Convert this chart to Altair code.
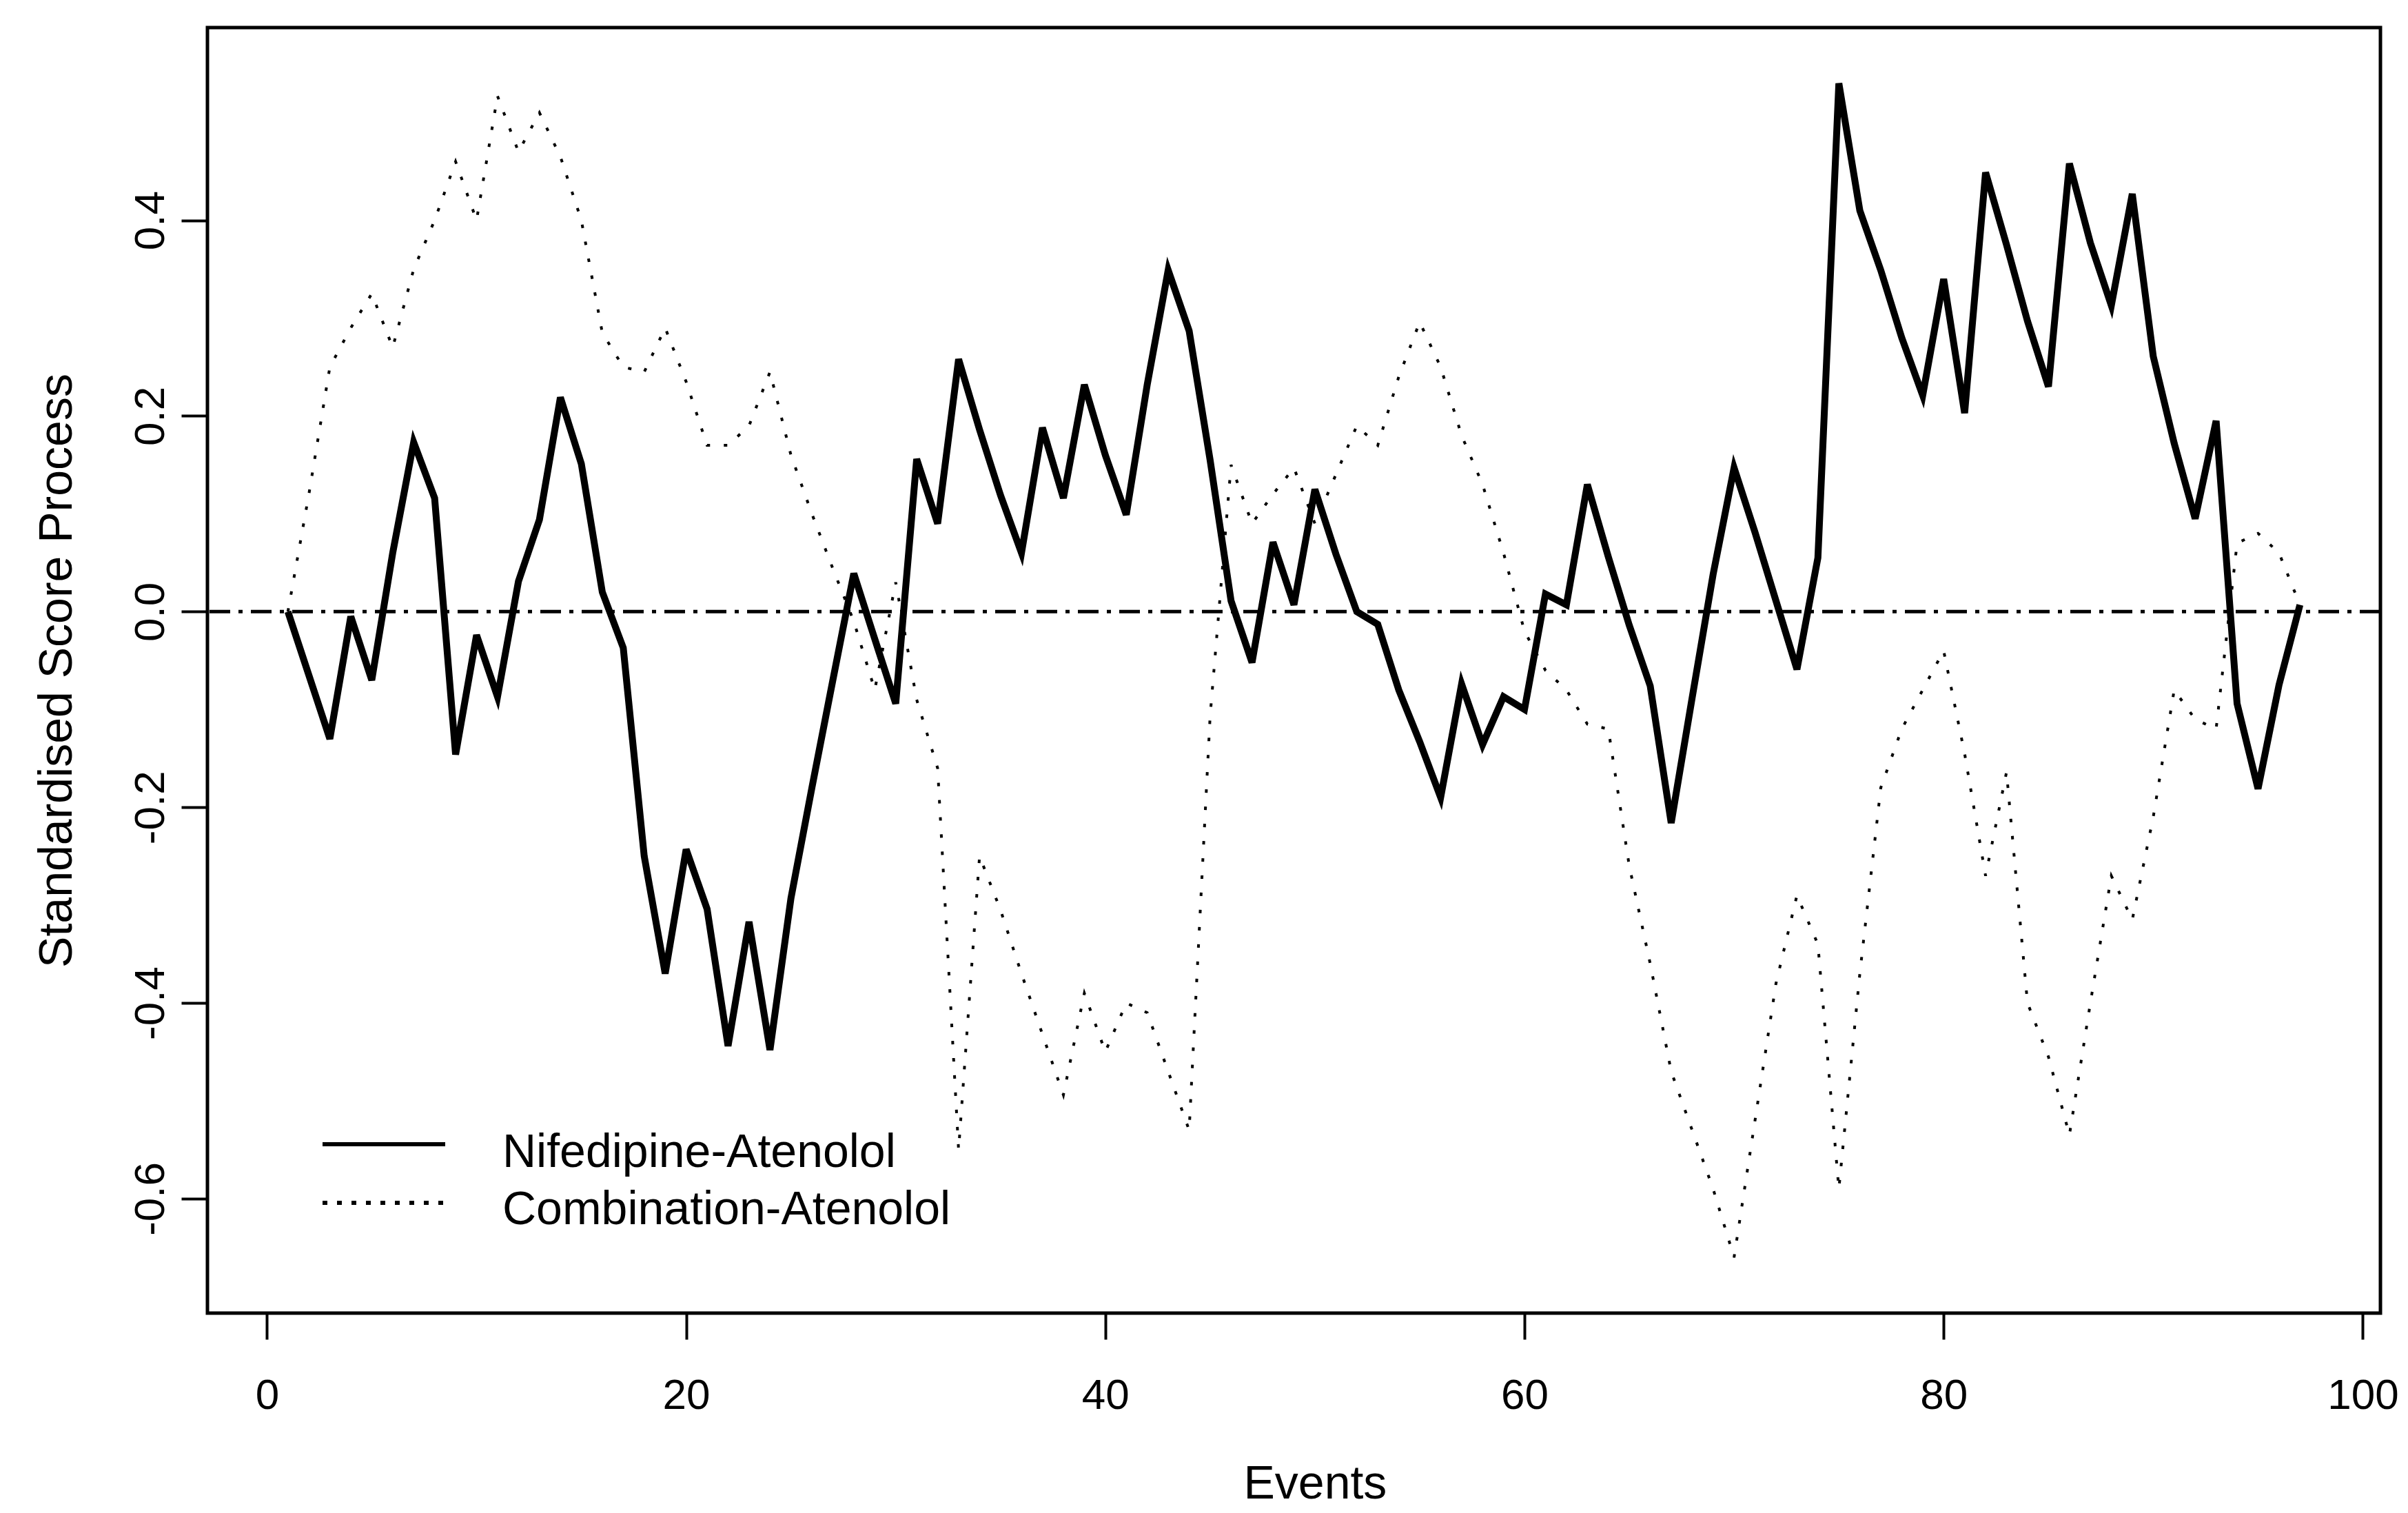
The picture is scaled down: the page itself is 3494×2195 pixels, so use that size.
import altair as alt
import pandas as pd

# ---- data ----
events = list(range(1, 98))

nifedipine_atenolol = [
    0.0, -0.065, -0.13, -0.005, -0.07, 0.06, 0.173, 0.116, -0.146, -0.024,
    -0.087, 0.031, 0.094, 0.219, 0.151, 0.02, -0.037, -0.25, -0.37, -0.243,
    -0.304, -0.444, -0.317, -0.448, -0.293, -0.18, -0.07, 0.039, -0.028, -0.094,
    0.156, 0.09, 0.258, 0.186, 0.119, 0.06, 0.188, 0.116, 0.232, 0.16,
    0.099, 0.232, 0.349, 0.287, 0.155, 0.011, -0.052, 0.071, 0.007, 0.125,
    0.059, 0.0, -0.013, -0.08, -0.133, -0.19, -0.074, -0.136, -0.087, -0.1,
    0.018, 0.007, 0.13, 0.056, -0.014, -0.076, -0.216, -0.088, 0.038, 0.147,
    0.081, 0.011, -0.059, 0.055, 0.54, 0.41, 0.349, 0.28, 0.221, 0.34,
    0.203, 0.449, 0.375, 0.297, 0.23, 0.458, 0.377, 0.313, 0.427, 0.261,
    0.172, 0.095, 0.195, -0.094, -0.181, -0.075, 0.007,
]

combination_atenolol = [
    0.0, 0.12, 0.25, 0.29, 0.325, 0.27, 0.35, 0.40, 0.46, 0.40,
    0.527, 0.47, 0.51, 0.465, 0.40, 0.285, 0.25, 0.245, 0.29, 0.235,
    0.17, 0.17, 0.19, 0.245, 0.16, 0.10, 0.044, -0.01, -0.08, 0.03,
    -0.09, -0.16, -0.55, -0.25, -0.305, -0.37, -0.432, -0.494, -0.39, -0.45,
    -0.40, -0.41, -0.47, -0.53, -0.107, 0.15, 0.09, 0.12, 0.147, 0.09,
    0.14, 0.19, 0.17, 0.24, 0.296, 0.25, 0.18, 0.13, 0.06, -0.02,
    -0.06, -0.08, -0.115, -0.12, -0.26, -0.36, -0.47, -0.53, -0.59, -0.66,
    -0.52, -0.38, -0.29, -0.34, -0.59, -0.37, -0.18, -0.12, -0.08, -0.04,
    -0.145, -0.27, -0.164, -0.40, -0.455, -0.535, -0.40, -0.27, -0.315, -0.21,
    -0.08, -0.11, -0.12, 0.07, 0.08, 0.06, 0.007,
]

series_names = ["Nifedipine-Atenolol", "Combination-Atenolol"]
x_ticks = [0, 20, 40, 60, 80, 100]
y_ticks = [-0.6, -0.4, -0.2, 0.0, 0.2, 0.4]
x_domain = [-2.84, 100.84]
y_domain = [-0.717, 0.597]
reference_level = [0.0]

FONT = "Liberation Sans"
W, H = 3153, 1865

df_nif = pd.DataFrame({"Events": events, "value": nifedipine_atenolol})
df_com = pd.DataFrame({"Events": events, "value": combination_atenolol})
df_ref = pd.DataFrame({"level": reference_level})

x_scale = alt.Scale(domain=x_domain, nice=False, zero=False)
y_scale = alt.Scale(domain=y_domain, nice=False, zero=False)

x_axis = alt.Axis(
    values=x_ticks, title="Events", grid=False, domain=False,
    tickSize=38, tickWidth=4, tickColor="black",
    labelFont=FONT, labelFontSize=62, labelColor="black",
    labelBaseline="alphabetic", labelPadding=100, labelFlush=False,
    titleFont=FONT, titleFontSize=68, titleFontWeight="normal", titleColor="black",
    titleBaseline="alphabetic", titleY=268, titleX=W * (50 - x_domain[0]) / (x_domain[1] - x_domain[0]),
)
y_axis = alt.Axis(
    values=y_ticks, format=".1f", title="Standardised Score Process", grid=False, domain=False,
    tickSize=38, tickWidth=4, tickColor="black",
    labelFont=FONT, labelFontSize=62, labelColor="black",
    labelAngle=270, labelAlign="center", labelBaseline="alphabetic", labelPadding=26,
    labelExpr="replace(datum.label, '\u2212', '-')",
    titleFont=FONT, titleFontSize=68, titleFontWeight="normal", titleColor="black",
    titleAngle=270, titleAlign="center", titleBaseline="alphabetic", titleX=-198, titleY=H / 2,
)

solid = alt.Chart(df_nif).mark_line(color="black", strokeWidth=10, strokeJoin="miter", clip=True).encode(
    x=alt.X("Events:Q", scale=x_scale, axis=x_axis),
    y=alt.Y("value:Q", scale=y_scale, axis=y_axis),
)
dotted = alt.Chart(df_com).mark_line(color="black", strokeWidth=4, strokeDash=[5, 20], clip=True).encode(
    x=alt.X("Events:Q", scale=x_scale),
    y=alt.Y("value:Q", scale=y_scale),
)
zero_line = alt.Chart(df_ref).mark_rule(color="black", strokeWidth=5, strokeDash=[30, 12, 6, 12]).encode(
    y=alt.Y("level:Q", scale=y_scale),
)

# legend (drawn manually, no frame, as in the reference)
leg_df = pd.DataFrame({"name": [series_names[0]]})
leg_solid = alt.Chart(leg_df).mark_rule(color="black", strokeWidth=6).encode(
    x=alt.value(167), x2=alt.value(345), y=alt.value(1620)
)
leg_dot = alt.Chart(leg_df).mark_rule(color="black", strokeWidth=6, strokeDash=[7, 14]).encode(
    x=alt.value(167), x2=alt.value(345), y=alt.value(1705)
)
leg_t1 = alt.Chart(leg_df).mark_text(
    font=FONT, fontSize=68, align="left", baseline="alphabetic", color="black", text=series_names[0]
).encode(x=alt.value(428), y=alt.value(1653))
leg_t2 = alt.Chart(leg_df).mark_text(
    font=FONT, fontSize=68, align="left", baseline="alphabetic", color="black", text=series_names[1]
).encode(x=alt.value(428), y=alt.value(1736))

chart = alt.layer(
    zero_line, dotted, solid, leg_solid, leg_dot, leg_t1, leg_t2
).properties(
    width=W, height=H,
    autosize=alt.AutoSizeParams(type="none"),
    padding={"left": 301, "top": 40, "right": 40, "bottom": 290},
    background="white",
).configure_view(stroke="black", strokeWidth=5)

chart.save("out.html", embed_options={"renderer": "svg", "actions": False})
